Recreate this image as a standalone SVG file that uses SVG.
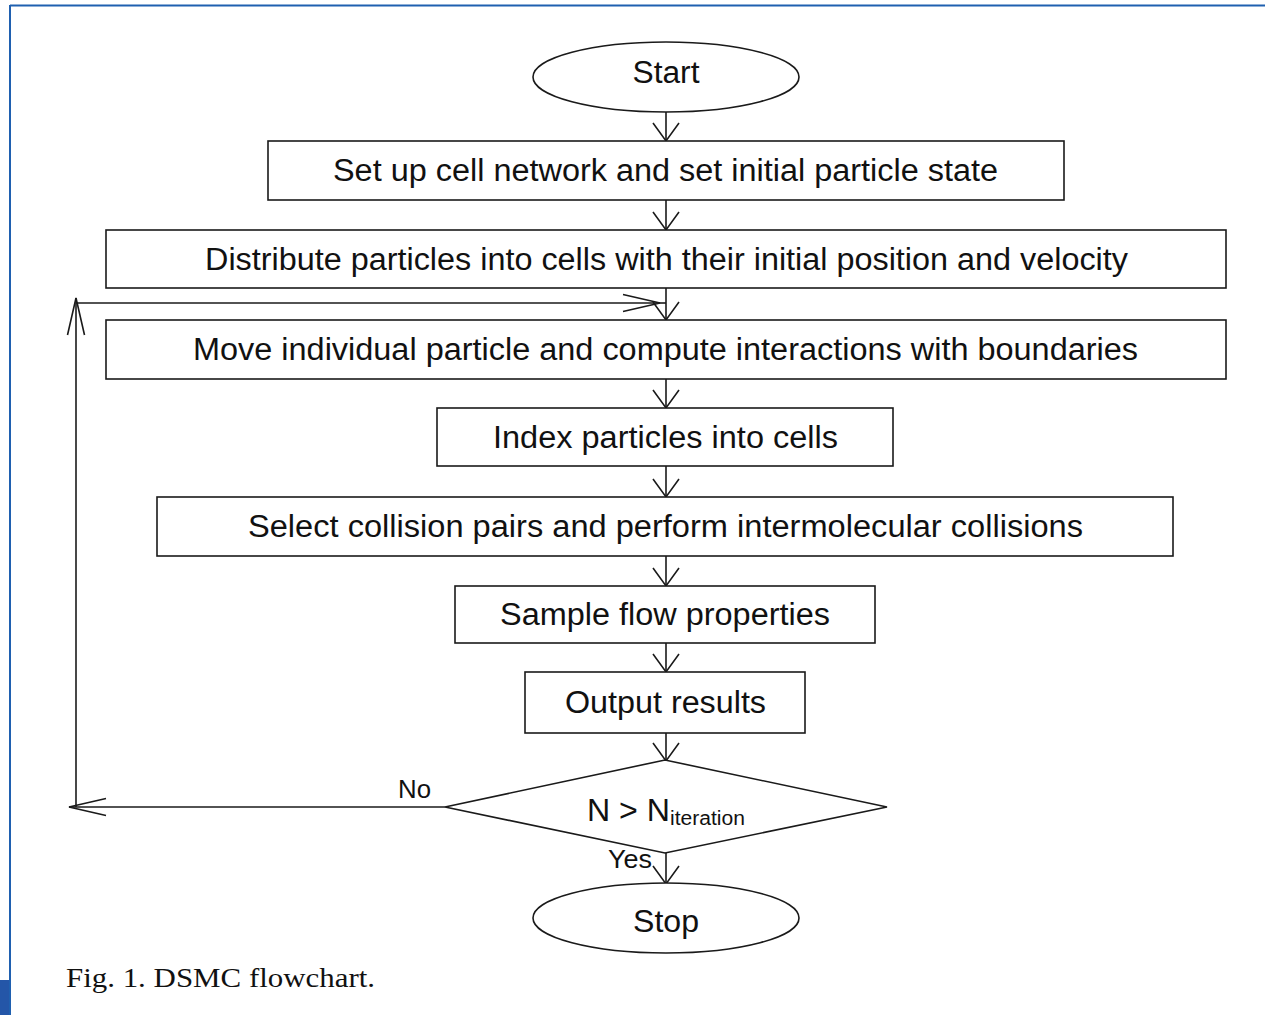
<svg xmlns="http://www.w3.org/2000/svg" width="1265" height="1015" viewBox="0 0 1265 1015">
<style>
.n{fill:#fff;stroke:#1a1a1a;stroke-width:1.6}
.t{font-family:"Liberation Sans",Arial,sans-serif;font-size:31px;fill:#111;text-anchor:middle}
.c{fill:none;stroke:#1a1a1a;stroke-width:1.6}
.ah{fill:none;stroke:#1a1a1a;stroke-width:1.6}
</style>
<defs>
<marker id="a" markerUnits="userSpaceOnUse" viewBox="-20 -15 22 30" refX="0" refY="0" markerWidth="22" markerHeight="30" orient="auto" overflow="visible">
<path d="M-18,-13 L0,0 L-18,13" class="ah"/>
</marker>
<marker id="b" markerUnits="userSpaceOnUse" viewBox="-40 -10 42 20" refX="0" refY="0" markerWidth="42" markerHeight="20" orient="auto" overflow="visible">
<path d="M-37,-8.5 L0,0 L-37,8.5" class="ah"/>
</marker>
</defs>
<rect width="1265" height="1015" fill="#fff"/>
<g id="frame">
<line x1="10" y1="5.5" x2="1265" y2="5.5" stroke="#1f60b0" stroke-width="2"/>
<line x1="10" y1="5" x2="10" y2="1015" stroke="#1f60b0" stroke-width="2"/>
<rect x="0" y="980" width="9" height="35" fill="#2456a8"/>
</g>
<g id="connectors">
<line x1="666" y1="112" x2="666" y2="141" class="c" marker-end="url(#a)"/>
<line x1="666" y1="200" x2="666" y2="230" class="c" marker-end="url(#a)"/>
<line x1="666" y1="288" x2="666" y2="320" class="c" marker-end="url(#a)"/>
<line x1="666" y1="379" x2="666" y2="408" class="c" marker-end="url(#a)"/>
<line x1="666" y1="466" x2="666" y2="497" class="c" marker-end="url(#a)"/>
<line x1="666" y1="556" x2="666" y2="586" class="c" marker-end="url(#a)"/>
<line x1="666" y1="643" x2="666" y2="672" class="c" marker-end="url(#a)"/>
<line x1="666" y1="733" x2="666" y2="761" class="c" marker-end="url(#a)"/>
<line x1="666" y1="853" x2="666" y2="884" class="c" marker-end="url(#a)"/>
<line x1="445" y1="807" x2="69" y2="807" class="c" marker-end="url(#b)"/>
<line x1="76" y1="807" x2="76" y2="298" class="c" marker-end="url(#b)"/>
<line x1="76" y1="303" x2="660" y2="303" class="c" marker-end="url(#b)"/>
<line x1="660" y1="303" x2="666" y2="303" class="c"/>
<text x="398" y="798" font-family="Liberation Sans,Arial,sans-serif" font-size="25" fill="#111" textLength="33" lengthAdjust="spacingAndGlyphs">No</text>
<text x="608" y="868" font-family="Liberation Sans,Arial,sans-serif" font-size="25" fill="#111" textLength="44" lengthAdjust="spacingAndGlyphs">Yes</text>
</g>
<g id="start">
<ellipse cx="666" cy="77" rx="133" ry="35" class="n"/>
<text x="666" y="83" class="t" textLength="67" lengthAdjust="spacingAndGlyphs">Start</text>
</g>
<g id="setup">
<rect x="268" y="141" width="796" height="59" class="n"/>
<text x="665.5" y="181" class="t" textLength="665" lengthAdjust="spacingAndGlyphs">Set up cell network and set initial particle state</text>
</g>
<g id="distribute">
<rect x="106" y="230" width="1120" height="58" class="n"/>
<text x="666.5" y="270" class="t" textLength="923" lengthAdjust="spacingAndGlyphs">Distribute particles into cells with their initial position and velocity</text>
</g>
<g id="move">
<rect x="106" y="320" width="1120" height="59" class="n"/>
<text x="665.5" y="360" class="t" textLength="945" lengthAdjust="spacingAndGlyphs">Move individual particle and compute interactions with boundaries</text>
</g>
<g id="index">
<rect x="437" y="408" width="456" height="58" class="n"/>
<text x="665.5" y="448" class="t" textLength="345" lengthAdjust="spacingAndGlyphs">Index particles into cells</text>
</g>
<g id="collide">
<rect x="157" y="497" width="1016" height="59" class="n"/>
<text x="665.5" y="537" class="t" textLength="835" lengthAdjust="spacingAndGlyphs">Select collision pairs and perform intermolecular collisions</text>
</g>
<g id="sample">
<rect x="455" y="586" width="420" height="57" class="n"/>
<text x="665" y="625" class="t" textLength="330" lengthAdjust="spacingAndGlyphs">Sample flow properties</text>
</g>
<g id="output">
<rect x="525" y="672" width="280" height="61" class="n"/>
<text x="665.5" y="713" class="t" textLength="201" lengthAdjust="spacingAndGlyphs">Output results</text>
</g>
<g id="decision">
<polygon points="445,807 665,760 887,807 665,853" class="n"/>
<text x="587" y="821" font-family="Liberation Sans,Arial,sans-serif" font-size="31" fill="#111"><tspan textLength="83" lengthAdjust="spacingAndGlyphs">N &gt; N</tspan><tspan font-size="20" dy="4" textLength="75" lengthAdjust="spacingAndGlyphs">iteration</tspan></text>
</g>
<g id="stop">
<ellipse cx="666" cy="918" rx="133" ry="35" class="n"/>
<text x="666" y="932" class="t" textLength="66" lengthAdjust="spacingAndGlyphs">Stop</text>
</g>
<text x="66" y="987" font-family="Liberation Serif,'Times New Roman',serif" font-size="28" fill="#111" textLength="309" lengthAdjust="spacingAndGlyphs">Fig. 1. DSMC flowchart.</text>
</svg>
